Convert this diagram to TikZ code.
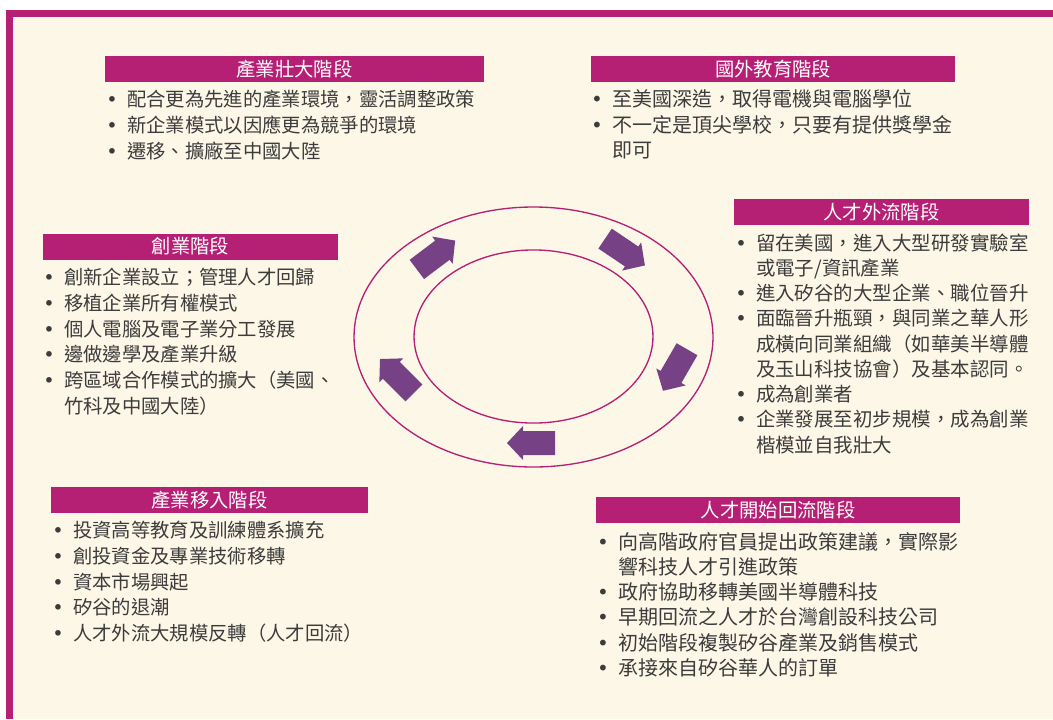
\documentclass[tikz,border=0pt]{standalone}
\usepackage{fontspec}
\newfontfamily\cjk{Noto Sans CJK TC}
\newfontfamily\bulfont{DejaVu Sans}
\definecolor{mag}{HTML}{B51F74}
\definecolor{arrc}{HTML}{764285}
\definecolor{cream}{HTML}{FDF7E7}
\definecolor{txt}{HTML}{3C3C3C}
\newlength\bw
\setlength\bw{16.5pt}
\newcommand\bul{\makebox[\bw][l]{\makebox[10.5pt][c]{\bulfont •}}}
\newcommand\ind{\hspace*{\bw}}
\tikzset{
  itemtext/.style={anchor=base west, inner sep=0pt, outer sep=0pt, text=txt},
  hdr/.style={fill=mag, text=white, inner sep=0pt, outer sep=0pt, minimum height=19.5pt,
              font=\cjk\fontsize{14.5pt}{14.5pt}\selectfont},
  ring/.style={draw=mag, line width=1pt},
  blockarrow/.style={fill=arrc}
}
% item with bullet: name, x, y, size, text
\newcommand\itm[5]{\node[itemtext, font=\cjk\fontsize{#4}{#4}\selectfont] (#1) at (#2,#3) {\bul #5};}
% continuation line
\newcommand\cnt[5]{\node[itemtext, font=\cjk\fontsize{#4}{#4}\selectfont] (#1) at (#2,#3) {\ind #5};}
% block arrow: x, y, angle
\newcommand\barrow[3]{\fill[blockarrow, shift={(#1,#2)}, rotate=#3]
  (-24,-12) -- (8,-12) -- (8,-17) -- (24,0) -- (8,17) -- (8,12) -- (-24,12) -- cycle;}
\begin{document}
\begin{tikzpicture}[x=0.75pt, y=-0.75pt]
\useasboundingbox (0,0) rectangle (1053,719);
\fill[white] (0,0) rectangle (1053,719);
\fill[cream] (13,17) rectangle (1053,719);
\fill[mag] (6,10) rectangle (1053,17);
\fill[mag] (6,10) rectangle (13,719);

% rings
\draw[ring] (533.5,337) ellipse [x radius=134.6pt, y radius=97.5pt];
\draw[ring] (533.5,336.5) ellipse [x radius=89.6pt, y radius=64.9pt];

% arrows
\barrow{436}{255}{37}
\barrow{625}{252}{-34}
\barrow{675}{370}{-120}
\barrow{531}{443}{180}
\barrow{397}{376}{135}

% headers
\node[hdr, minimum width=284.25pt] (hA) at (294.5,69) {產業壯大階段};
\node[hdr, minimum width=273pt] (hB) at (773,69) {國外教育階段};
\node[hdr, minimum width=221.25pt] (hC) at (881.5,212) {人才外流階段};
\node[hdr, minimum width=221.25pt] (hD) at (190.5,246.5) {創業階段};
\node[hdr, minimum width=237.75pt] (hE) at (209.5,500) {產業移入階段};
\node[hdr, minimum width=273pt] (hF) at (778,510) {人才開始回流階段};

% section A
\itm{a1}{105}{106}{14.5pt}{配合更為先進的產業環境，靈活調整政策}
\itm{a2}{105}{132}{14.5pt}{新企業模式以因應更為競爭的環境}
\itm{a3}{105}{158}{14.5pt}{遷移、擴廠至中國大陸}

% section B
\itm{b1}{590}{106}{15pt}{至美國深造，取得電機與電腦學位}
\itm{b2}{590}{132}{15pt}{不一定是頂尖學校，只要有提供獎學金}
\cnt{b3}{590}{157}{15pt}{即可}

% section C
\itm{c1}{734}{250}{14.6pt}{留在美國，進入大型研發實驗室}
\cnt{c2}{734}{275}{14.6pt}{或電子/資訊產業}
\itm{c3}{734}{300}{14.6pt}{進入矽谷的大型企業、職位晉升}
\itm{c4}{734}{325.5}{14.6pt}{面臨晉升瓶頸，與同業之華人形}
\cnt{c5}{734}{351}{14.6pt}{成橫向同業組織（如華美半導體}
\cnt{c6}{734}{376}{14.6pt}{及玉山科技協會）及基本認同。}
\itm{c7}{734}{401}{14.6pt}{成為創業者}
\itm{c8}{734}{426.5}{14.6pt}{企業發展至初步規模，成為創業}
\cnt{c9}{734}{452}{14.6pt}{楷模並自我壯大}

% section D
\itm{d1}{42}{284}{14.5pt}{創新企業設立；管理人才回歸}
\itm{d2}{42}{310}{14.5pt}{移植企業所有權模式}
\itm{d3}{42}{336}{14.5pt}{個人電腦及電子業分工發展}
\itm{d4}{42}{361}{14.5pt}{邊做邊學及產業升級}
\itm{d5}{42}{387}{14.5pt}{跨區域合作模式的擴大（美國、}
\cnt{d6}{42}{413}{14.5pt}{竹科及中國大陸）}

% section E
\itm{e1}{51}{537}{14.5pt}{投資高等教育及訓練體系擴充}
\itm{e2}{51}{563}{14.5pt}{創投資金及專業技術移轉}
\itm{e3}{51}{589}{14.5pt}{資本市場興起}
\itm{e4}{51}{614}{14.5pt}{矽谷的退潮}
\itm{e5}{51}{640}{14.5pt}{人才外流大規模反轉（人才回流）}

% section F
\itm{f1}{596}{549}{15pt}{向高階政府官員提出政策建議，實際影}
\cnt{f2}{596}{574}{15pt}{響科技人才引進政策}
\itm{f3}{596}{599}{15pt}{政府協助移轉美國半導體科技}
\itm{f4}{596}{624.5}{15pt}{早期回流之人才於台灣創設科技公司}
\itm{f5}{596}{650}{15pt}{初始階段複製矽谷產業及銷售模式}
\itm{f6}{596}{675}{15pt}{承接來自矽谷華人的訂單}
\end{tikzpicture}
\end{document}
